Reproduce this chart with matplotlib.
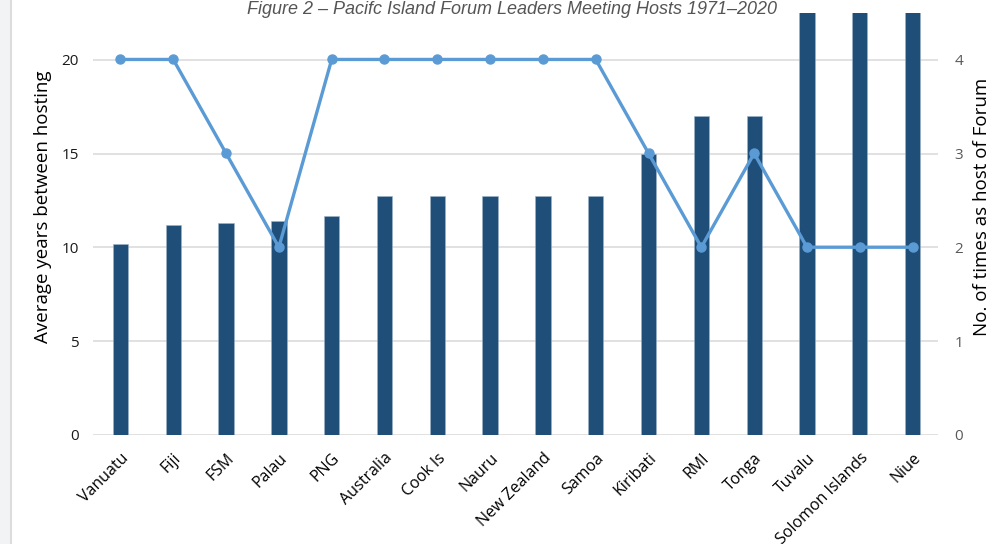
from matplotlib import pyplot as plt
from matplotlib.patches import Rectangle
import numpy as np

# host countries, in the order of the chart
countries = ["Vanuatu", "Fiji", "FSM", "Palau", "PNG", "Australia", "Cook Is",
             "Nauru", "New Zealand", "Samoa", "Kiribati", "RMI", "Tonga",
             "Tuvalu", "Solomon Islands", "Niue"]
# average years between hosting (bars, left axis)
avg_years = [10.2, 11.2, 11.3, 11.4, 11.7, 12.75, 12.75, 12.75, 12.75, 12.75,
             15.0, 17.0, 17.0, 24.5, 24.5, 24.5]
# number of times as host (line, right axis)
times_hosted = [4, 4, 3, 2, 4, 4, 4, 4, 4, 4, 3, 2, 3, 2, 2, 2]

bar_color = "#1f4e79"
line_color = "#5b9bd5"
grid_color = "#d9d9d9"

plt.rcParams['font.family'] = ["Open Sans", "DejaVu Sans"]

fig = plt.figure(figsize=(10.01, 5.44), dpi=100)

# light grey page strip on the left
fig.patches.append(Rectangle((0, 0), 10 / 1001, 1, transform=fig.transFigure,
                             facecolor="#f2f3f5", edgecolor="none", zorder=0))
fig.add_artist(plt.Line2D([10.5 / 1001, 10.5 / 1001], [0, 1], color="#dcdcdc",
                          lw=1.5, transform=fig.transFigure))

ax = fig.add_axes([0.0929, 0.2004, 0.8441, 0.7766])
x = np.arange(len(countries))

ax.bar(x, avg_years, width=0.29, color=bar_color, edgecolor="#9fb3c8",
       linewidth=0.4, zorder=2)
ax.set_xlim(-0.52, len(countries) - 0.52)
ax.set_ylim(0, 22.53)
ax.set_yticks([0, 5, 10, 15, 20])
ax.yaxis.grid(True, color=grid_color, linewidth=1.1)
ax.set_axisbelow(True)
for s in ax.spines.values():
    s.set_visible(False)
ax.tick_params(axis="y", length=0, pad=10, labelsize=11, labelcolor="#1a1a1a")
ax.tick_params(axis="x", length=0, pad=11, labelsize=11.5)
ax.set_xticks(x)
ax.set_xticklabels(countries, rotation=45, ha="right", rotation_mode="anchor")
ax.set_ylabel("Average years between hosting", fontsize=13.5)
# label sits a bit above the middle of the axis, as in the original
ax.yaxis.set_label_coords(-0.048, 0.541)

# line on the second axis
ax2 = ax.twinx()
ax2.plot(x, times_hosted, color=line_color, linewidth=2.4, marker="o",
         markersize=6.5, zorder=3)
ax2.set_ylim(0, 4.5)
ax2.set_yticks([0, 1, 2, 3, 4])
for s in ax2.spines.values():
    s.set_visible(False)
ax2.tick_params(axis="y", length=0, pad=12, labelsize=11, labelcolor="#595959")
ax2.set_ylabel("No. of times as host of Forum", fontsize=13.5)
ax2.yaxis.set_label_coords(1.042, 0.541)

fig.text(0.511, 0.982, "Figure 2 \u2013 Pacifc Island Forum Leaders Meeting Hosts 1971\u20132020",
         ha="center", va="center", fontsize=13, style="italic",
         family="Liberation Sans", color="#555555")

fig.savefig("out.png", dpi=100)
